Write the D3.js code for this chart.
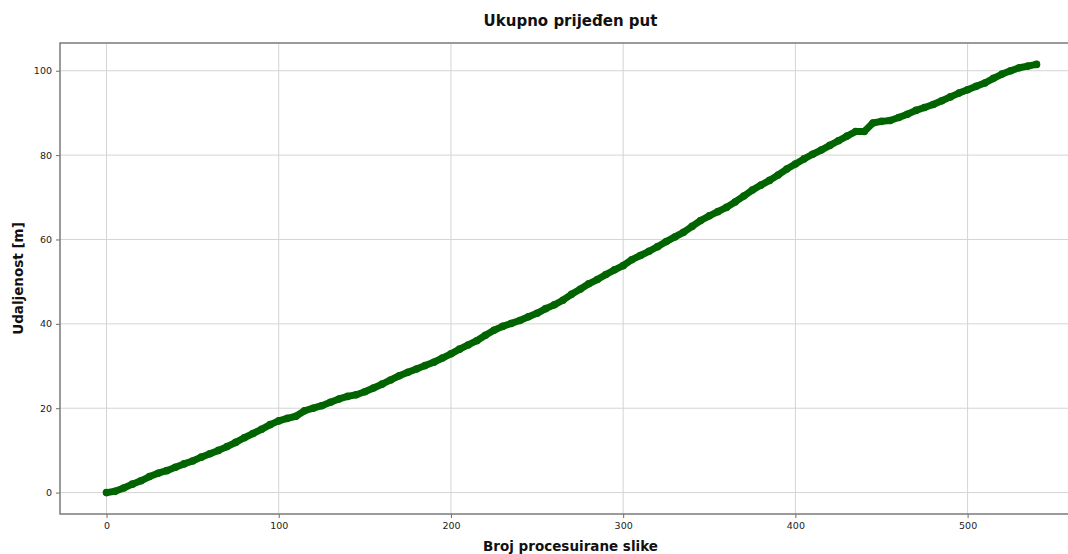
<!DOCTYPE html>
<html>
<head>
<meta charset="utf-8">
<script src="https://cdn.jsdelivr.net/npm/d3@7"></script>
<style>
  html, body { margin: 0; padding: 0; background: #fff; }
  svg { display: block; font-family: "DejaVu Sans", sans-serif; }
</style>
</head>
<body>
<svg id="chart" width="1068" height="554"></svg>
<script>
// Cumulative distance, sampled every 5 processed frames
const frames = d3.range(0, 541, 5);
const distance = [
  0.0, 0.3, 1.1, 2.0, 2.8, 3.8, 4.6, 5.2, 6.0, 6.8,
  7.5, 8.4, 9.2, 10.0, 10.9, 11.9, 13.0, 14.0, 15.0, 16.1,
  17.0, 17.6, 18.1, 19.4, 20.0, 20.6, 21.4, 22.2, 22.8, 23.2,
  23.9, 24.8, 25.7, 26.7, 27.7, 28.5, 29.3, 30.1, 30.9, 31.9,
  32.9, 34.0, 35.0, 36.0, 37.3, 38.5, 39.4, 40.1, 40.8, 41.7,
  42.5, 43.6, 44.5, 45.6, 47.0, 48.2, 49.5, 50.5, 51.7, 52.8,
  53.8, 55.2, 56.2, 57.2, 58.3, 59.5, 60.6, 61.7, 63.1, 64.5,
  65.6, 66.6, 67.6, 68.9, 70.3, 71.7, 72.9, 74.0, 75.3, 76.7,
  77.9, 79.1, 80.2, 81.2, 82.3, 83.4, 84.5, 85.6, 85.6, 87.6,
  88.0, 88.2, 88.9, 89.7, 90.6, 91.3, 92.0, 92.9, 93.8, 94.7,
  95.5, 96.3, 97.1, 98.2, 99.2, 100.0, 100.7, 101.1, 101.5
];
const xTicks = [0, 100, 200, 300, 400, 500];
const yTicks = [0, 20, 40, 60, 80, 100];

const titleText = "Ukupno prijeđen put";
const xLabelText = "Broj procesuirane slike";
const yLabelText = "Udaljenost [m]";

const data = frames.map((f, i) => ({ f, v: distance[i] }));

const svg = d3.select("#chart");
const m = { left: 60, top: 43, right: 1083, bottom: 514 };

const x = d3.scaleLinear().domain([-27, 567]).range([m.left, m.right]);
const y = d3.scaleLinear().domain([-5.075, 106.575]).range([m.bottom, m.top]);

const grid = svg.append("g");
grid.selectAll("line.vx").data(xTicks).join("line")
  .attr("x1", d => x(d)).attr("x2", d => x(d))
  .attr("y1", m.top).attr("y2", m.bottom)
  .attr("stroke", "#d4d4d4").attr("stroke-width", 1);
grid.selectAll("line.hy").data(yTicks).join("line")
  .attr("x1", m.left).attr("x2", m.right)
  .attr("y1", d => y(d)).attr("y2", d => y(d))
  .attr("stroke", "#d4d4d4").attr("stroke-width", 1);

// Axes
const xAxis = d3.axisBottom(x).tickValues(xTicks).tickSize(4).tickPadding(4).tickSizeOuter(0);
const yAxis = d3.axisLeft(y).tickValues(yTicks).tickSize(4).tickPadding(4).tickSizeOuter(0);

const gx = svg.append("g").attr("transform", `translate(0,${m.bottom})`).call(xAxis);
const gy = svg.append("g").attr("transform", `translate(${m.left},0)`).call(yAxis);
[gx, gy].forEach(g => {
  g.select(".domain").remove();
  g.selectAll(".tick line").attr("stroke", "#444").attr("stroke-width", 0.8);
  g.selectAll(".tick text").attr("fill", "#222").style("font-size", "9.5px")
    .style("font-family", "DejaVu Sans, sans-serif");
});

// Frame (spines)
svg.append("rect")
  .attr("x", m.left).attr("y", m.top)
  .attr("width", m.right - m.left).attr("height", m.bottom - m.top)
  .attr("fill", "none").attr("stroke", "#7a7a7a").attr("stroke-width", 1.5);

// Series
const line = d3.line().x(d => x(d.f)).y(d => y(d.v));
svg.append("path").datum(data)
  .attr("d", line)
  .attr("fill", "none").attr("stroke", "#006400")
  .attr("stroke-width", 7).attr("stroke-linejoin", "round").attr("stroke-linecap", "round");
svg.append("g").selectAll("circle").data(data).join("circle")
  .attr("cx", d => x(d.f)).attr("cy", d => y(d.v)).attr("r", 3.8)
  .attr("fill", "#006400");

// Labels
const cx = (m.left + m.right) / 2;
svg.append("text").attr("x", cx - 1).attr("y", 26).attr("text-anchor", "middle")
  .style("font-weight", "bold").style("font-size", "15px").attr("fill", "#111").text(titleText);
svg.append("text").attr("x", cx - 1).attr("y", 551).attr("text-anchor", "middle")
  .style("font-weight", "bold").style("font-size", "13.5px").attr("fill", "#111").text(xLabelText);
svg.append("text").attr("transform", `translate(23,${(m.top + m.bottom) / 2}) rotate(-90)`)
  .attr("text-anchor", "middle")
  .style("font-weight", "bold").style("font-size", "13.5px").attr("fill", "#111").text(yLabelText);
</script>
</body>
</html>
